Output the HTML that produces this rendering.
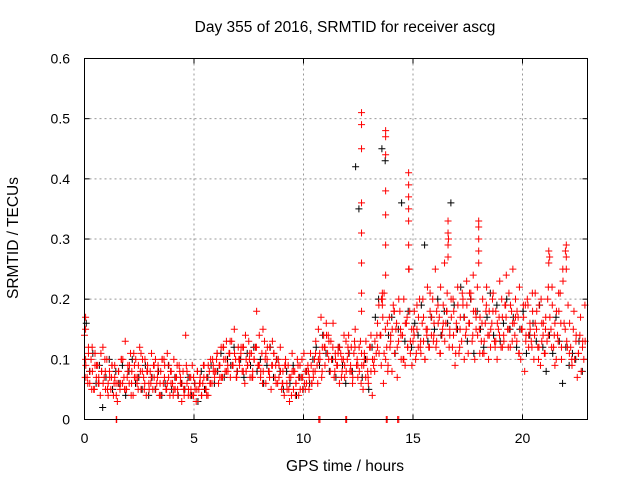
<!DOCTYPE html>
<html><head><meta charset="utf-8"><style>
body{margin:0;background:#fff;}
svg{display:block;font-family:"Liberation Sans",sans-serif;}
</style></head><body>
<svg id="chart" width="640" height="480" viewBox="0 0 640 480">
<rect width="640" height="480" fill="#fff"/>
<text x="345" y="32" font-size="15.5" text-anchor="middle">Day 355 of 2016, SRMTID for receiver ascg</text>
<text x="18" y="238" font-size="15.5" text-anchor="middle" transform="rotate(-90 18 238)">SRMTID / TECUs</text>
<text x="345" y="471" font-size="15.5" text-anchor="middle">GPS time / hours</text>
<g id="grid"></g>
<g id="ticks"></g>
<g id="black"></g>
<g id="red"></g>
<rect x="84.5" y="58.5" width="503" height="361" fill="none" stroke="#000" stroke-width="1"/>
</svg>
<script>
const xTicks=[0,5,10,15,20];
const yTicks=[0,0.1,0.2,0.3,0.4,0.5,0.6];
const yTickLabels=["0","0.1","0.2","0.3","0.4","0.5","0.6"];
const redStart=0, redStep=0.06;
const redValues=[
.14,.09,.07,.12,.06,.10,.08,.05,.11,.07,
.09,.06,.04,.08,.12,.07,.05,.10,.06,.08,
.05,.09,.04,.07,.06,.03,.08,.05,.10,.06,
.07,.13,.05,.09,.06,.11,.08,.04,.07,.10,
.06,.09,.12,.05,.08,.07,.10,.04,.09,.06,
.08,.11,.05,.07,.10,.06,.09,.04,.08,.10,
.06,.09,.05,.11,.07,.04,.08,.06,.10,.05,
.07,.04,.09,.06,.03,.08,.05,.14,.06,.04,
.07,.05,.09,.04,.06,.03,.08,.05,.07,.04,
.06,.09,.05,.07,.04,.08,.10,.06,.09,.07,
.08,.11,.06,.09,.12,.07,.10,.08,.13,.09,
.11,.07,.13,.09,.15,.10,.08,.12,.09,.11,
.08,.12,.06,.10,.09,.13,.07,.11,.08,.10,
.12,.18,.09,.14,.07,.11,.08,.13,.06,.10,
.08,.12,.05,.09,.11,.07,.10,.06,.09,.12,
.05,.08,.04,.10,.06,.09,.03,.07,.11,.05,
.08,.06,.10,.04,.09,.07,.05,.11,.08,.06,
.09,.07,.11,.06,.08,.10,.13,.09,.15,.11,
.17,.12,.14,.09,.16,.11,.13,.08,.10,.12,
.07,.10,.09,.12,.06,.11,.08,.10,.07,.13,
.10,.14,.08,.12,.06,.11,.15,.09,.07,.12,
.13,.09,.05,.11,.07,.10,.06,.12,.08,.04,
.09,.13,.11,.16,.19,.14,.20,.17,.21,.15,
.12,.09,.17,.14,.08,.19,.11,.15,.07,.13,
.18,.10,.14,.20,.09,.16,.12,.25,.11,.15,
.13,.18,.10,.15,.12,.20,.11,.16,.13,.10,
.15,.22,.12,.18,.14,.20,.16,.25,.13,.19,
.17,.22,.14,.19,.26,.16,.21,.30,.15,.20,
.12,.18,.09,.15,.22,.11,.17,.13,.20,.10,
.14,.19,.11,.16,.21,.13,.18,.10,.15,.22,
.28,.17,.13,.20,.11,.16,.22,.14,.18,.12,
.16,.21,.13,.18,.10,.15,.23,.12,.17,.14,
.19,.24,.15,.21,.12,.18,.25,.16,.20,.13,
.17,.22,.10,.15,.19,.08,.14,.20,.12,.16,
.13,.18,.10,.21,.15,.12,.19,.09,.16,.14,
.11,.17,.13,.22,.27,.15,.19,.12,.16,.10,
.14,.18,.21,.12,.25,.16,.28,.13,.19,.11,
.12,.09,.15,.10,.13,.07,.11,.14,.08,.12,
.10,.13];
const redSecondStart=0.03, redSecondStep=0.15;
const redSecond=[
.07,.11,.05,.09,.06,.08,.10,.04,.07,.09,
.06,.10,.05,.08,.04,.09,.07,.11,.05,.08,
.06,.09,.07,.04,.10,.06,.08,.05,.09,.07,
.05,.08,.04,.07,.05,.06,.09,.04,.06,.08,
.10,.07,.12,.08,.11,.09,.07,.10,.12,.08,
.10,.07,.12,.09,.06,.11,.08,.13,.09,.07,
.06,.09,.05,.08,.04,.07,.10,.05,.08,.06,
.08,.10,.07,.12,.14,.10,.08,.11,.07,.09,
.12,.08,.13,.09,.06,.10,.08,.14,.10,.12,
.14,.11,.16,.13,.18,.12,.15,.10,.17,.13,
.15,.19,.12,.17,.14,.21,.13,.18,.11,.16,
.18,.14,.20,.16,.12,.19,.15,.21,.14,.17,
.15,.11,.18,.14,.20,.13,.17,.12,.19,.15,
.13,.17,.11,.15,.19,.14,.12,.16,.10,.13,
.11,.14,.12,.09,.13,.10];
const redThirdStart=0.05, redThirdStep=0.1;
const redThird=[
.10,.06,.08,.12,.05,.09,.07,.11,.06,.08,
.05,.07,.09,.06,.04,.08,.06,.10,.05,.07,
.09,.06,.11,.07,.05,.08,.10,.06,.08,.05,
.07,.09,.05,.08,.06,.10,.07,.05,.09,.06,
.04,.07,.05,.08,.06,.04,.09,.05,.07,.04,
.05,.08,.06,.04,.07,.05,.09,.06,.10,.08,
.11,.09,.07,.12,.10,.08,.13,.09,.11,.07,
.10,.12,.08,.14,.09,.11,.07,.10,.12,.09,
.08,.15,.10,.12,.07,.09,.11,.06,.10,.08,
.06,.09,.05,.07,.04,.08,.06,.09,.05,.07,
.06,.08,.05,.09,.07,.11,.06,.10,.08,.12,
.14,.10,.13,.16,.11,.09,.12,.10,.14,.08,
.11,.09,.07,.12,.10,.08,.11,.09,.13,.07,
.12,.10,.08,.14,.11,.09,.06,.10,.08,.12,
.15,.18,.16,.20,.14,.10,.16,.12,.18,.09,
.14,.11,.17,.13,.20,.10,.15,.12,.17,.14,
.12,.16,.11,.15,.13,.18,.12,.17,.14,.11,
.19,.15,.21,.17,.23,.16,.20,.24,.18,.14,
.11,.16,.13,.19,.10,.15,.18,.12,.16,.14,
.20,.13,.17,.12,.19,.16,.14,.18,.11,.15,
.17,.13,.19,.15,.21,.14,.18,.12,.20,.16,
.15,.20,.17,.22,.14,.18,.21,.16,.23,.15,
.12,.16,.10,.18,.14,.11,.17,.13,.19];
const spikeTimes=[0.05,0.05,12.65,12.65,12.65,12.65,12.65,12.65,12.65,12.65,13.75,13.75,13.75,13.75,13.75,13.75,13.75,14.8,14.8,14.8,14.8,14.8,14.8,14.8,16.6,16.6,16.6,16.6,18.0,18.0,18.0,18.0,21.2,21.2,22.0,22.0,22.0,13.6,13.6,13.6,1.45,1.47,11.93,11.97,13.78,13.82,10.7,10.75,14.3,14.35];
const spikeValues=[.17,.15,.51,.49,.45,.36,.31,.26,.21,.18,.48,.47,.44,.38,.34,.29,.24,.41,.39,.37,.35,.33,.29,.25,.33,.31,.29,.27,.33,.32,.30,.26,.28,.26,.29,.27,.25,.21,.20,.19,0,0,0,0,0,0,0,0,0,0];
const blackStart=0.08, blackStep=0.15;
const blackValues=[
.16,.08,.11,.06,.09,.02,.07,.10,.05,.08,
.06,.09,.04,.08,.10,.06,.07,.05,.09,.04,
.07,.05,.08,.04,.06,.09,.05,.07,.04,.06,
.05,.07,.04,.06,.03,.08,.05,.07,.09,.06,
.08,.11,.07,.10,.09,.12,.08,.10,.07,.11,
.09,.12,.08,.10,.06,.09,.12,.07,.10,.08,
.05,.08,.06,.09,.04,.07,.05,.08,.06,.10,
.12,.09,.14,.11,.08,.10,.07,.12,.09,.06,
.11,.08,.42,.35,.07,.10,.05,.12,.17,.20,
.45,.43,.14,.17,.11,.15,.36,.13,.18,.12,
.16,.14,.19,.29,.13,.17,.15,.20,.14,.18,
.16,.36,.19,.15,.22,.17,.13,.20,.11,.18,
.15,.12,.17,.21,.14,.19,.13,.16,.20,.15,
.17,.12,.15,.18,.11,.14,.16,.13,.19,.12,
.08,.14,.11,.17,.13,.06,.12,.09,.11,.10,
.13,.08];
const X0=84.5,XS=21.9,Y0=419.5,YS=601.7;
function xs(t){return X0+t*XS;}
function ys(v){return Y0-v*YS;}
const NS="http://www.w3.org/2000/svg";
const grid=document.getElementById('grid'),ticks=document.getElementById('ticks');
function mk(tag,attrs,parent){const e=document.createElementNS(NS,tag);for(const k in attrs)e.setAttribute(k,attrs[k]);parent.appendChild(e);return e;}
xTicks.forEach((t,i)=>{
  const x=xs(t);
  if(i>0){const g=mk('line',{x1:x,y1:58.5,x2:x,y2:419.5,stroke:'#999','stroke-dasharray':'2,3'},grid);
  
  }
  mk('line',{x1:x,y1:419.5,x2:x,y2:414.5,stroke:'#000'},ticks);
  mk('line',{x1:x,y1:58.5,x2:x,y2:63.5,stroke:'#000'},ticks);
  const l=mk('text',{x:x,y:443,'font-size':'14','text-anchor':'middle'},ticks);
  
  
  l.textContent=t;
});
yTicks.forEach((v,i)=>{
  const y=ys(v);
  if(i>0&&i<yTicks.length-1){const g=mk('line',{x1:84.5,y1:y,x2:587.5,y2:y,stroke:'#999','stroke-dasharray':'2,3'},grid);
  
  }
  mk('line',{x1:84.5,y1:y,x2:89.5,y2:y,stroke:'#000'},ticks);
  mk('line',{x1:587.5,y1:y,x2:582.5,y2:y,stroke:'#000'},ticks);
  const l=mk('text',{x:70,y:y+5,'font-size':'14','text-anchor':'end'},ticks);
  
  
  l.textContent=yTickLabels[i];
});
function plus(t,v,parent,color){
  const x=xs(t),y=ys(v);
  const p=mk('path',{d:`M${x-3.5},${y}H${x+3.5}M${x},${y-3.5}V${y+3.5}`,stroke:color,'stroke-width':'1',fill:'none'},parent);
  
  
}
const bg=document.getElementById('black'),rg=document.getElementById('red');
blackValues.forEach((v,i)=>plus(blackStart+i*blackStep,v,bg,'#000'));
redValues.forEach((v,i)=>plus(redStart+i*redStep,v,rg,'#f00'));
redSecond.forEach((v,i)=>plus(redSecondStart+i*redSecondStep,v,rg,'#f00'));
redThird.forEach((v,i)=>plus(redThirdStart+i*redThirdStep,v,rg,'#f00'));
spikeTimes.forEach((t,i)=>plus(t,spikeValues[i],rg,'#f00'));
</script>
</body></html>
